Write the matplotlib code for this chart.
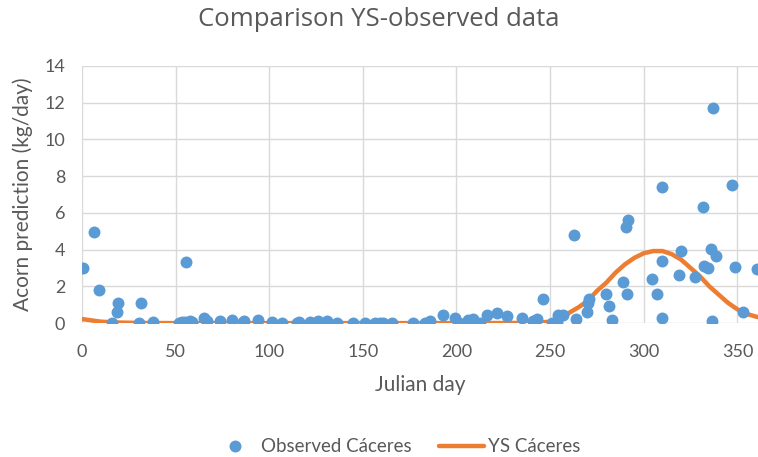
import matplotlib
matplotlib.use("Agg")
from matplotlib import pyplot as plt

# observed acorn production (Julian day, kg/day)
obs_day = [0.4, 6.4, 9.3, 15.9, 18.9, 19.4, 30.6, 31.8, 37.8,
           52, 53.5, 55, 55.4, 56.5, 58, 59, 65.2, 66.7, 73.7, 80, 85.8, 86.5,
           93.8, 101.5, 107, 114.6, 116, 121.8, 126.2, 130.7, 136.1, 144.9,
           151.2, 156.5, 159, 161, 165.4, 177, 183.2, 185.9, 193, 199.3, 201.1,
           206.4, 209, 212.6, 216.5, 221.5, 226.9, 235, 241.1, 242.9, 246.4,
           250.9, 253.5, 254.4, 257.1, 262.5, 263.9, 269.6, 270.5, 271, 279.9,
           281.2, 283, 288.8, 290.6, 291, 291.5, 304.3, 307.3, 309.7, 309.7,
           310, 318.9, 319.8, 327.4, 331.4, 332, 334.1, 335.9, 336.7, 337.2,
           338.7, 347.1, 348.9, 352.9, 360.4]
obs_val = [3.0, 4.93, 1.81, 0.03, 0.63, 1.09, 0.03, 1.12, 0.08,
           0.02, 0.05, 0.08, 3.3, 0.03, 0.1, 0.05, 0.27, 0.1, 0.1, 0.15, 0.05, 0.12,
           0.15, 0.05, 0.0, 0.03, 0.05, 0.08, 0.1, 0.1, 0.0, 0.03,
           0.0, 0.03, 0.02, 0.0, 0.02, 0.02, 0.0, 0.1, 0.42, 0.27, 0.0,
           0.15, 0.22, 0.03, 0.45, 0.54, 0.36, 0.3, 0.1, 0.22, 1.3,
           0.03, 0.05, 0.45, 0.45, 4.8, 0.22, 0.58, 1.09, 1.3, 1.57,
           0.94, 0.18, 2.23, 5.25, 1.59, 5.6, 2.39, 1.59, 3.4, 7.39,
           0.27, 2.62, 3.95, 2.53, 6.3, 3.08, 2.99, 4.02, 0.14, 11.72,
           3.66, 7.52, 3.04, 0.63, 2.93]

# YS model curve
ys_day = [0, 5, 10, 15, 20, 30, 50, 100, 150, 200, 240, 245, 250, 255, 260,
          265, 270, 275, 280, 285, 290, 295, 300, 305, 310, 315, 320, 325,
          330, 335, 340, 345, 350, 355, 360, 365]
ys_val = [0.22, 0.15, 0.08, 0.05, 0.03, 0.01, 0.0, 0.0, 0.0, 0.0, 0.01, 0.03,
          0.08, 0.25, 0.55, 0.85, 1.2, 1.75, 2.2, 2.75, 3.2, 3.55, 3.8, 3.92,
          3.92, 3.75, 3.45, 3.0, 2.55, 2.0, 1.55, 1.1, 0.75, 0.5, 0.35, 0.25]

x_ticks = [0, 50, 100, 150, 200, 250, 300, 350]
y_ticks = [0, 2, 4, 6, 8, 10, 12, 14]

BLUE = "#5B9BD5"
ORANGE = "#ED7D31"
GREY = "#595959"

plt.rcParams['font.family'] = ['Lato', 'DejaVu Sans']

fig = plt.figure(figsize=(7.58, 4.57), dpi=100)
ax = fig.add_axes([0.108, 0.293, 0.892, 0.563])

ax.plot(ys_day, ys_val, color=ORANGE, lw=3.2, label="YS Cáceres", zorder=2,
        solid_capstyle='round')
ax.plot(obs_day, obs_val, 'o', color=BLUE, ms=8.6, label="Observed Cáceres",
        zorder=3, markeredgewidth=0)

ax.set_xlim(0, 361)
ax.set_ylim(0, 14)
ax.set_xticks(x_ticks)
ax.set_yticks(y_ticks)
ax.grid(True, color="#D9D9D9", lw=1)
ax.set_axisbelow(True)
for s in ax.spines.values():
    s.set_visible(False)
ax.tick_params(length=0, colors=GREY, labelsize=13)
ax.tick_params(axis='x', pad=15)
ax.tick_params(axis='y', pad=12)

ax.set_xlabel("Julian day", color=GREY, fontsize=15, labelpad=11)
ax.set_ylabel("Acorn prediction (kg/day)", color=GREY, fontsize=15, labelpad=8)
fig.text(0.5, 0.957, "Comparison YS-observed data", ha='center', va='center',
         color=GREY, fontsize=18.5, family=['Open Sans', 'DejaVu Sans'])

h, l = ax.get_legend_handles_labels()
fig.legend(h[::-1], l[::-1], loc='center', bbox_to_anchor=(0.523, 0.022), ncol=2,
           frameon=False, fontsize=13.5, labelcolor=GREY, handlelength=2.4,
           columnspacing=1.45, handletextpad=0.2)

fig.savefig("out.png", dpi=100)
